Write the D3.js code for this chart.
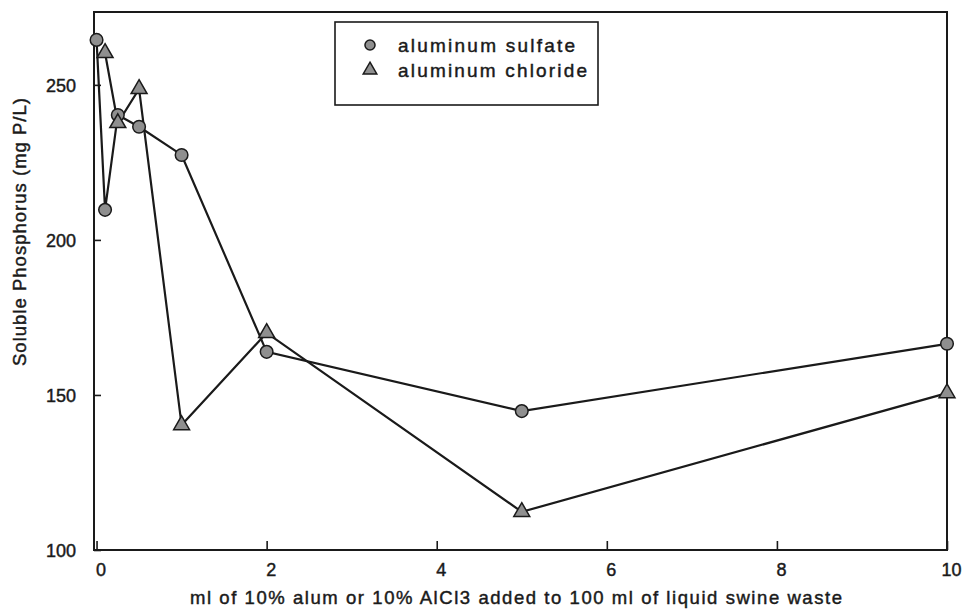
<!DOCTYPE html>
<html>
<head>
<meta charset="utf-8">
<script src="https://cdn.jsdelivr.net/npm/d3@7"></script>
<style>
  body { margin: 0; background: #fff; }
  text { font-family: "Liberation Sans", Arial, sans-serif; fill: #1a1a1a; stroke: #1a1a1a; stroke-width: 0.45px; }
  .frame { fill: none; stroke: #1a1a1a; stroke-width: 2; }
  .tick-mark { stroke: #1a1a1a; stroke-width: 1.6; }
  .line { fill: none; stroke: #1a1a1a; stroke-width: 2.2; }
  .marker { fill: #8f8f8f; stroke: #1a1a1a; stroke-width: 1.5; }
</style>
</head>
<body>
<div id="wrapper"></div>
<script>
// values
const sulfateDose = [0, 0.1, 0.25, 0.5, 1, 2, 5, 10]
const sulfateP    = [264.5, 209.7, 240.3, 236.5, 227.4, 163.9, 144.8, 166.5]
const chlorideDose = [0.1, 0.25, 0.5, 1, 2, 5, 10]
const chlorideP    = [260.3, 237.7, 248.7, 140.3, 170, 112.3, 150.6]

const xTicks = [0, 2, 4, 6, 8, 10]
const yTicks = [100, 150, 200, 250]

const seriesNames = ["aluminum sulfate", "aluminum chloride"]
const xTitle = "ml of 10% alum or 10% AlCl3 added to 100 ml of liquid swine waste"
const yTitle = "Soluble Phosphorus (mg P/L)"

function drawChart() {

  // 1. Data
  const sulfate = sulfateDose.map((d, i) => ({ x: d, y: sulfateP[i] }))
  const chloride = chlorideDose.map((d, i) => ({ x: d, y: chlorideP[i] }))

  // 2. Dimensions
  let dimensions = {
    width: 962,
    height: 615,
    margin: { top: 12, right: 15, bottom: 65, left: 94 },
  }
  dimensions.boundedWidth = dimensions.width - dimensions.margin.left - dimensions.margin.right
  dimensions.boundedHeight = dimensions.height - dimensions.margin.top - dimensions.margin.bottom

  // 3. Canvas
  const wrapper = d3.select("#wrapper")
    .append("svg")
      .attr("width", dimensions.width)
      .attr("height", dimensions.height)

  const bounds = wrapper.append("g")
      .attr("transform", `translate(${dimensions.margin.left}, ${dimensions.margin.top})`)

  // 4. Scales
  const xScale = d3.scaleLinear()
    .domain([-0.03, 10])
    .range([0, dimensions.boundedWidth])

  const yScale = d3.scaleLinear()
    .domain([100, 273.5])
    .range([dimensions.boundedHeight, 0])

  // 5. Peripherals
  bounds.append("rect")
      .attr("class", "frame")
      .attr("width", dimensions.boundedWidth)
      .attr("height", dimensions.boundedHeight)

  const xAxis = bounds.append("g")
      .attr("transform", `translate(0, ${dimensions.boundedHeight})`)
      .call(d3.axisBottom(xScale).tickValues(xTicks).tickSize(-9).tickPadding(13))
  const yAxis = bounds.append("g")
      .call(d3.axisLeft(yScale).tickValues(yTicks).tickSize(-7).tickPadding(18))

  ;[xAxis, yAxis].forEach(axis => {
    axis.select(".domain").remove()
    axis.selectAll(".tick line").attr("class", "tick-mark")
    axis.selectAll(".tick text")
        .style("font-size", "18px")
        .attr("fill", "#1a1a1a")
  })
  xAxis.selectAll(".tick text").attr("dy", "0.71em").attr("dx", 4)
  yAxis.selectAll(".tick text").attr("dy", "0.35em")

  wrapper.append("text")
      .attr("x", 516)
      .attr("y", 604)
      .attr("text-anchor", "middle")
      .style("font-size", "18.5px")
      .attr("textLength", 652)
      .attr("lengthAdjust", "spacing")
      .text(xTitle)

  wrapper.append("text")
      .attr("transform", `translate(26, 232) rotate(-90)`)
      .attr("text-anchor", "middle")
      .style("font-size", "18.5px")
      .attr("textLength", 268)
      .attr("lengthAdjust", "spacing")
      .text(yTitle)

  // 6. Data marks
  const lineGenerator = d3.line()
    .x(d => xScale(d.x))
    .y(d => yScale(d.y))

  bounds.append("path").datum(sulfate).attr("class", "line").attr("d", lineGenerator)
  bounds.append("path").datum(chloride).attr("class", "line").attr("d", lineGenerator)

  const circleSymbol = d3.symbol(d3.symbolCircle, 125)
  const triangleSymbol = d3.symbol(d3.symbolTriangle, 110)

  const drawMarkers = (data, symbol, name) => {
    const g = bounds.append("g").selectAll("g")
      .data(data)
      .join("g")
        .attr("transform", d => `translate(${xScale(d.x)}, ${yScale(d.y)})`)
    g.append("path")
        .attr("class", "marker " + name)
        .attr("d", symbol)
    return g
  }
  drawMarkers(sulfate, circleSymbol, "sulfate")
  drawMarkers(chloride, triangleSymbol, "chloride")

  // 7. Legend
  const legend = wrapper.append("g")
      .attr("transform", "translate(335, 22)")
  legend.append("rect")
      .attr("class", "frame")
      .attr("width", 263)
      .attr("height", 83)
      .style("stroke-width", 1.6)

  const legendSymbols = [d3.symbol(d3.symbolCircle, 80), d3.symbol(d3.symbolTriangle, 80)]
  const legendWidths = [177, 189]
  seriesNames.forEach((name, i) => {
    const item = legend.append("g")
        .attr("transform", `translate(0, ${23 + i * 25})`)
    item.append("path")
        .attr("class", "marker")
        .attr("transform", "translate(35, 0)")
        .attr("d", legendSymbols[i])
    item.append("text")
        .attr("x", 63)
        .attr("dy", "0.35em")
        .style("font-size", "19px")
        .attr("textLength", legendWidths[i])
        .attr("lengthAdjust", "spacing")
        .text(name)
  })
}
drawChart()
</script>
</body>
</html>
